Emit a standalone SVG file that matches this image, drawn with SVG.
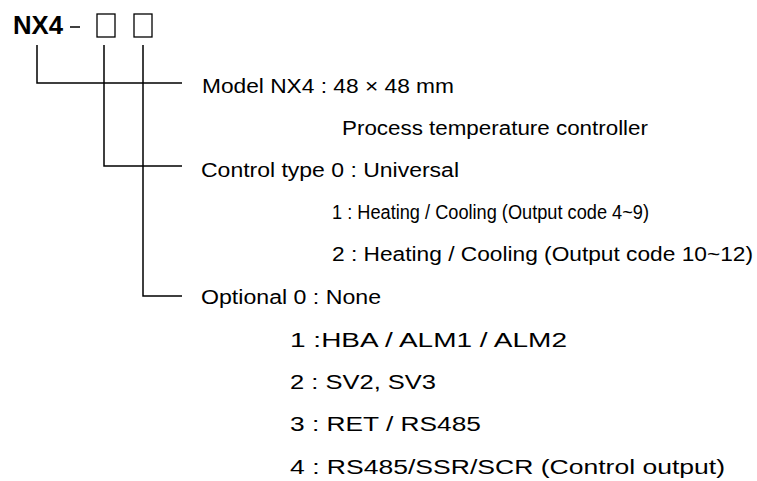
<svg xmlns="http://www.w3.org/2000/svg" width="757" height="481" viewBox="0 0 757 481">
<style>
.t{font-family:"Liberation Sans",Arial,sans-serif;font-size:20px;fill:#000}
.c{stroke:#000;stroke-width:1.5;fill:none}
.b{stroke:#000;stroke-width:1.3;fill:#fff}
</style>
<rect width="757" height="481" fill="#fff"/>
<g id="code">
<text x="13" y="34" font-family="Liberation Sans,Arial,sans-serif" font-size="25" font-weight="bold" textLength="50" lengthAdjust="spacingAndGlyphs">NX4</text>
<line x1="70" y1="27" x2="80" y2="27" stroke="#000" stroke-width="1.5"/>
<rect class="b" x="97" y="14" width="18" height="23"/>
<rect class="b" x="134" y="14" width="18" height="23"/>
</g>
<g id="connectors">
<polyline class="c" points="37,45 37,83 182,83"/>
<polyline class="c" points="104,45 104,166 182,166"/>
<polyline class="c" points="143,45 143,296 182,296"/>
</g>
<g id="model">
<text class="t" x="202" y="93" textLength="252" lengthAdjust="spacingAndGlyphs">Model NX4 : 48 × 48 mm</text>
<text class="t" x="342" y="135" textLength="306" lengthAdjust="spacingAndGlyphs">Process temperature controller</text>
</g>
<g id="control">
<text class="t" x="201" y="177" textLength="258" lengthAdjust="spacingAndGlyphs">Control type 0 : Universal</text>
<text class="t" x="332" y="219" textLength="317" lengthAdjust="spacingAndGlyphs">1 : Heating / Cooling (Output code 4~9)</text>
<text class="t" x="332" y="261" textLength="421" lengthAdjust="spacingAndGlyphs">2 : Heating / Cooling (Output code 10~12)</text>
</g>
<g id="optional">
<text class="t" x="201" y="304" textLength="180" lengthAdjust="spacingAndGlyphs">Optional 0 : None</text>
<text class="t" x="290" y="347" textLength="277" lengthAdjust="spacingAndGlyphs">1 :HBA / ALM1 / ALM2</text>
<text class="t" x="290" y="389" textLength="146" lengthAdjust="spacingAndGlyphs">2 : SV2, SV3</text>
<text class="t" x="290" y="431" textLength="191" lengthAdjust="spacingAndGlyphs">3 : RET / RS485</text>
<text class="t" x="290" y="474" textLength="435" lengthAdjust="spacingAndGlyphs">4 : RS485/SSR/SCR (Control output)</text>
</g>
</svg>
